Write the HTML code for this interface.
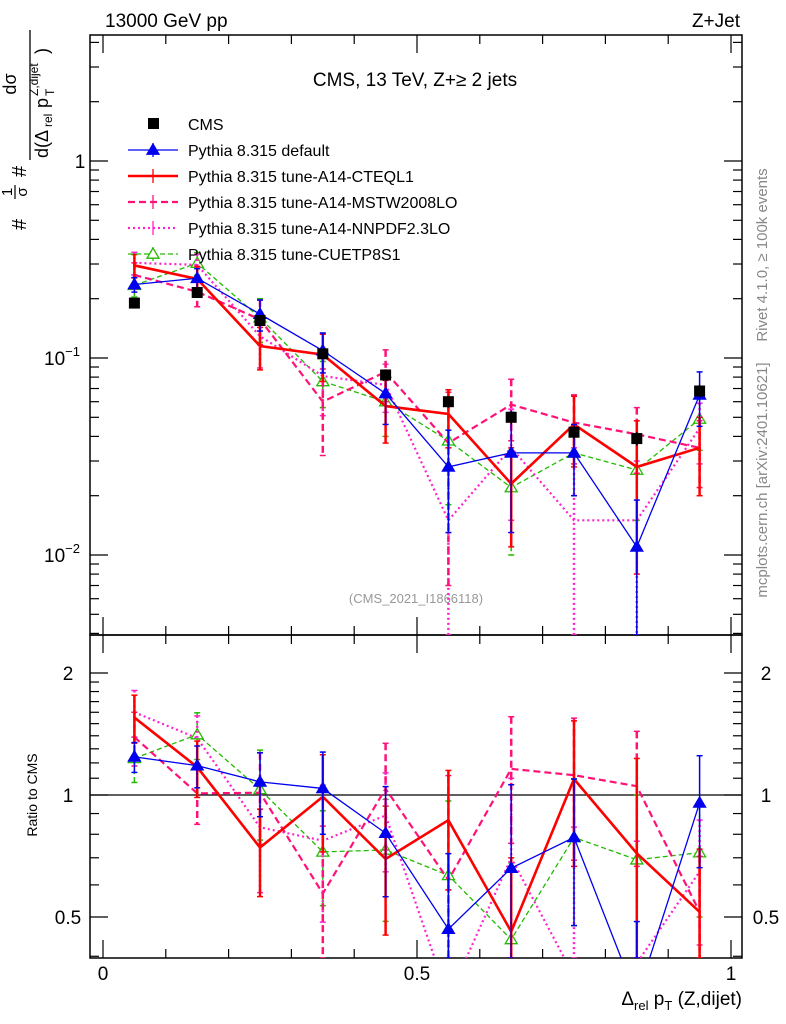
<!DOCTYPE html>
<html><head><meta charset="utf-8"><style>
html,body{margin:0;padding:0;background:#fff;width:786px;height:1024px;overflow:hidden}
svg{display:block;font-family:"Liberation Sans",sans-serif}
</style></head><body>
<svg id="c" width="786" height="1024" xmlns="http://www.w3.org/2000/svg">
<defs>
<clipPath id="cm"><rect x="90" y="35" width="652" height="600"/></clipPath>
<clipPath id="cr"><rect x="90" y="635" width="652" height="323"/></clipPath>
</defs>
<text x="105" y="27" font-size="19">13000 GeV pp</text>
<text x="740" y="27" font-size="19" text-anchor="end">Z+Jet</text>
<text x="415" y="86" font-size="19" text-anchor="middle">CMS, 13 TeV, Z+≥ 2 jets</text>
<text x="416" y="603" font-size="13" fill="#999" text-anchor="middle">(CMS_2021_I1866118)</text>
<text transform="translate(767,255) rotate(-90)" font-size="15" fill="#888" text-anchor="middle">Rivet 4.1.0, ≥ 100k events</text>
<text transform="translate(767,480) rotate(-90)" font-size="15" fill="#888" text-anchor="middle">mcplots.cern.ch [arXiv:2401.10621]</text>
<g transform="translate(0,232) rotate(-90)">
<text x="2" y="26" font-size="20">#</text>
<text x="40" y="12" font-size="15" text-anchor="middle">1</text>
<line x1="33" y1="15" x2="47" y2="15" stroke="#000" stroke-width="1.2"/>
<text x="40" y="27" font-size="15" text-anchor="middle">σ</text>
<text x="55" y="26" font-size="20">#</text>
<line x1="72" y1="30" x2="202" y2="30" stroke="#000" stroke-width="1.3"/>
<text x="148" y="16" font-size="18" text-anchor="middle">dσ</text>
<text x="74" y="48" font-size="18">d(Δ</text>
<text x="105" y="52" font-size="12">rel</text>
<text x="124" y="48" font-size="18">p</text>
<text x="136" y="38" font-size="12">Z,dijet</text>
<text x="136" y="54" font-size="12">T</text>
<text x="178" y="48" font-size="18">)</text>
</g>
<text transform="translate(37,795) rotate(-90)" font-size="14" text-anchor="middle">Ratio to CMS</text>
<text x="742" y="1005" font-size="19" text-anchor="end">Δ<tspan font-size="13" dy="5">rel</tspan><tspan dy="-5"> p</tspan><tspan font-size="13" dy="5">T</tspan><tspan dy="-5"> (Z,dijet)</tspan></text>
<g id="axes"></g>
<g id="marks"></g>
<g id="legend"></g>
</svg>
<script>
const binCenters=[0.05,0.15,0.25,0.35,0.45,0.55,0.65,0.75,0.85,0.95];
const cmsVals=[0.19,0.215,0.155,0.105,0.082,0.06,0.05,0.042,0.039,0.068];
const cmsErr=[0.008,0.008,0.007,0.005,0.004,0.004,0.004,0.003,0.003,0.005];
const defaultVals=[0.236,0.254,0.167,0.109,0.066,0.028,0.033,0.033,0.011,0.065];
const defaultErr=[0.02,0.03,0.03,0.025,0.02,0.015,0.02,0.013,0.008,0.02];
const cteqVals=[0.295,0.252,0.115,0.104,0.057,0.052,0.023,0.046,0.028,0.035];
const cteqErr=[0.04,0.04,0.028,0.028,0.02,0.017,0.012,0.018,0.02,0.015];
const mstwVals=[0.264,0.217,0.157,0.06,0.085,0.037,0.058,0.047,0.041,0.035];
const mstwErr=[0.04,0.035,0.04,0.028,0.025,0.03,0.02,0.018,0.015,0.013];
const nnpdfVals=[0.304,0.297,0.129,0.081,0.073,0.015,0.035,0.015,0.015,0.044];
const nnpdfErr=[0.04,0.04,0.04,0.03,0.02,0.02,0.02,0.02,0.015,0.015];
const cuetVals=[0.234,0.303,0.16,0.076,0.06,0.038,0.022,0.033,0.027,0.049];
const cuetErr=[0.03,0.04,0.04,0.02,0.02,0.02,0.012,0.013,0.012,0.015];
const xTickLabels=["0","0.5","1"];
const ratioTickLabels=["0.5","1","2"];

const NS="http://www.w3.org/2000/svg";
const X=v=>103+628*v;
const Y=v=>161-197*Math.log10(v);
const R=v=>795-122*Math.log2(v);
const clamp=(y,a,b)=>Math.min(b,Math.max(a,y));
function mk(tag,attrs,parent){const e=document.createElementNS(NS,tag);for(const k in attrs)e.setAttribute(k,attrs[k]);parent.appendChild(e);return e;}
const axes=document.getElementById('axes'),marks=document.getElementById('marks'),leg=document.getElementById('legend');

let f1=mk('rect',{x:90,y:35,width:652,height:600,fill:'none',stroke:'#000','stroke-width':1.5},axes);

let f2=mk('rect',{x:90,y:635,width:652,height:323,fill:'none',stroke:'#000','stroke-width':1.5},axes);

for(let d=-3;d<=0;d++){for(let m=1;m<10;m++){const v=m*Math.pow(10,d);const y=Y(v);if(y<35||y>635)continue;const L=m==1?18:9;
mk('line',{x1:90,y1:y,x2:90+L,y2:y,stroke:'#000','stroke-width':1.2},axes);mk('line',{x1:742,y1:y,x2:742-L,y2:y,stroke:'#000','stroke-width':1.2},axes);}}
const ylab=[[1,'1'],[0.1,'10'],[0.01,'10']];
ylab.forEach(([v,t],i)=>{const g=mk('text',{x:i==0?80:62,y:Y(v)+7,'font-size':19,'text-anchor':'middle'},axes);g.textContent=t;

if(i>0){const s=mk('tspan',{'font-size':13,dy:-9},g);s.textContent=i==1?'−1':'−2';}});
for(let k=4;k<=24;k++){const v=k/10;if(v>2&&k%5)continue;const y=R(v);if(y<635||y>958)continue;const major=(v==0.5||v==1||v==2);const L=major?18:9;
mk('line',{x1:90,y1:y,x2:90+L,y2:y,stroke:'#000','stroke-width':1.2},axes);mk('line',{x1:742,y1:y,x2:742-L,y2:y,stroke:'#000','stroke-width':1.2},axes);}
[0.5,1,2].forEach((v,i)=>{[68,766].forEach(x=>{const t=mk('text',{x:x,y:R(v)+7,'font-size':19,'text-anchor':'middle'},axes);t.textContent=ratioTickLabels[i];
});});
for(let k=0;k<=10;k++){const v=k/10,x=X(v),L=(k%5==0)?18:9;
mk('line',{x1:x,y1:35,x2:x,y2:35+L,stroke:'#000','stroke-width':1.2},axes);
mk('line',{x1:x,y1:635,x2:x,y2:635-L,stroke:'#000','stroke-width':1.2},axes);
mk('line',{x1:x,y1:635,x2:x,y2:635+L,stroke:'#000','stroke-width':1.2},axes);
mk('line',{x1:x,y1:958,x2:x,y2:958-L,stroke:'#000','stroke-width':1.2},axes);}
[0,0.5,1].forEach((v,i)=>{const t=mk('text',{x:X(v),y:980,'font-size':19,'text-anchor':'middle'},axes);t.textContent=xTickLabels[i];
});
let rl=mk('line',{x1:90,y1:R(1),x2:742,y2:R(1),stroke:'#000','stroke-width':1.3},axes);


const series=[
 {name:'pythia-cuetp8s1',vals:cuetVals,err:cuetErr,color:'#22bb00',w:1.3,dash:'5,3',marker:'otri',label:'Pythia 8.315 tune-CUETP8S1'},
 {name:'pythia-nnpdf',vals:nnpdfVals,err:nnpdfErr,color:'#ff22cc',w:2.2,dash:'2,3',marker:null,label:'Pythia 8.315 tune-A14-NNPDF2.3LO'},
 {name:'pythia-mstw',vals:mstwVals,err:mstwErr,color:'#ff1177',w:2.2,dash:'7,4',marker:null,label:'Pythia 8.315 tune-A14-MSTW2008LO'},
 {name:'pythia-cteql1',vals:cteqVals,err:cteqErr,color:'#ff0000',w:2.6,dash:'',marker:null,label:'Pythia 8.315 tune-A14-CTEQL1'},
 {name:'pythia-default',vals:defaultVals,err:defaultErr,color:'#0000ee',w:1.3,dash:'',marker:'tri',label:'Pythia 8.315 default'}
];
function tri(x,y,fill,col,p){const s=6;return mk('polygon',{points:`${x},${y-s} ${x-s},${y+s*0.7} ${x+s},${y+s*0.7}`,fill:fill?col:'#fff',stroke:col,'stroke-width':1.3},p);}
function drawSeries(s,panel){
 const g=mk('g',{'clip-path':panel=='main'?'url(#cm)':'url(#cr)'},marks);
 
 const lo=panel=='main'?35:635, hi=panel=='main'?635:958;
 const yv=(i)=>clamp(panel=='main'?Y(s.vals[i]):R(s.vals[i]/cmsVals[i]),lo-40,hi+40);
 const ye=(i,sg)=>{const v=Math.max(s.vals[i]+sg*s.err[i],1e-4);return clamp(panel=='main'?Y(v):R(v/cmsVals[i]),lo,hi);};
 binCenters.forEach((c,i)=>{const x=X(c);const a=mk('line',{x1:x,y1:ye(i,1),x2:x,y2:ye(i,-1),stroke:s.color,'stroke-width':s.w>2?2.5:1.5,'stroke-dasharray':s.dash},g);
  
  mk('line',{x1:x-3,y1:ye(i,1),x2:x+3,y2:ye(i,1),stroke:s.color,'stroke-width':1.5},g);
  mk('line',{x1:x-3,y1:ye(i,-1),x2:x+3,y2:ye(i,-1),stroke:s.color,'stroke-width':1.5},g);});
 const pts=binCenters.map((c,i)=>X(c)+','+yv(i)).join(' ');
 const pl=mk('polyline',{points:pts,fill:'none',stroke:s.color,'stroke-width':s.w,'stroke-dasharray':s.dash},g);
 
 if(s.marker)binCenters.forEach((c,i)=>{const y=yv(i);if(y<lo||y>hi)return;const m=tri(X(c),y,s.marker=='tri',s.color,g);});
}
const gc=mk('g',{'clip-path':'url(#cm)'},marks);

series.forEach(s=>drawSeries(s,'main'));
binCenters.forEach((c,i)=>{const x=X(c),y=Y(cmsVals[i]);
 mk('line',{x1:x,y1:Y(cmsVals[i]+cmsErr[i]),x2:x,y2:Y(cmsVals[i]-cmsErr[i]),stroke:'#000','stroke-width':1.5},gc);
 const r=mk('rect',{x:x-5.5,y:y-5.5,width:11,height:11,fill:'#000'},gc);
 });
marks.appendChild(gc);
series.forEach(s=>drawSeries(s,'ratio'));

const legItems=[{label:'CMS',cms:true}].concat(series.slice().reverse());
legItems.forEach((s,i)=>{const y=124+26*i;const g=mk('g',{},leg);
 
 if(s.cms){mk('rect',{x:148,y:y-6,width:11,height:11,fill:'#000'},g);}
 else{mk('line',{x1:128,y1:y,x2:178,y2:y,stroke:s.color,'stroke-width':s.w,'stroke-dasharray':s.dash},g);
  mk('line',{x1:153,y1:y-7,x2:153,y2:y+7,stroke:s.color,'stroke-width':1.3},g);
  if(s.marker)tri(153,y,s.marker=='tri',s.color,g);}
 const t=mk('text',{x:188,y:y+6,'font-size':16},g);t.textContent=s.label;});
</script>
</body></html>
